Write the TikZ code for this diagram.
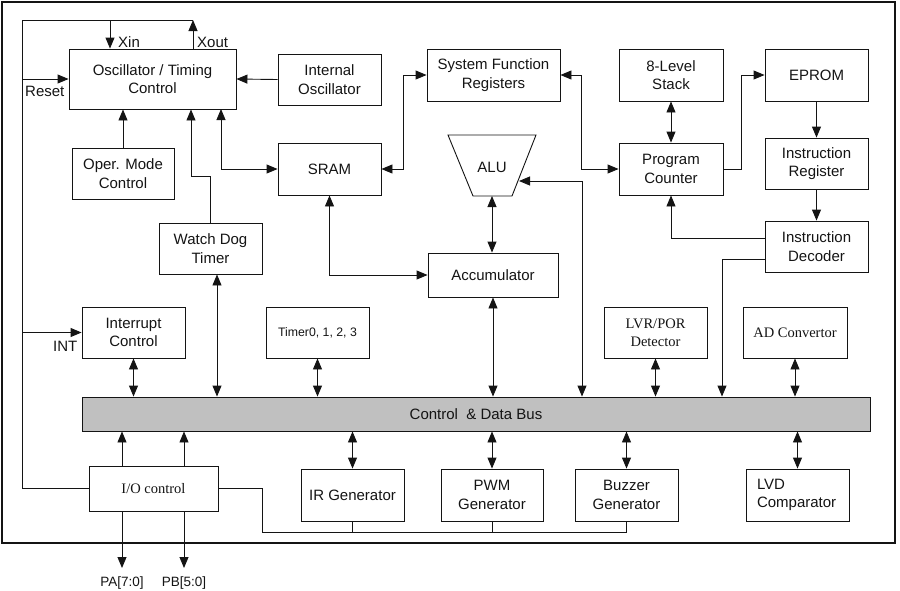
\documentclass[tikz,border=0pt]{standalone}
\usepackage{fontspec}
\setmainfont{Liberation Sans}
\newfontfamily\serifx{Liberation Serif}
\usetikzlibrary{arrows.meta}
\definecolor{busgray}{RGB}{192,192,192}
\definecolor{ink}{RGB}{20,20,20}
\begin{document}
\begin{tikzpicture}[x=1pt,y=-1pt,
  every node/.style={font=\fontsize{15}{18.5}\selectfont, text=ink},
  wire/.style={line width=0.9pt, draw=ink},
  blk/.style={draw=ink, line width=0.9pt, align=center, inner sep=0pt, minimum width=103pt, minimum height=51pt},
  arr/.style={wire, -{Triangle[length=11pt,width=9pt]}},
  darr/.style={wire, {Triangle[length=11pt,width=9pt]}-{Triangle[length=11pt,width=9pt]}},
  lbl/.style={inner sep=0pt},
  serifblk/.style={font=\serifx\fontsize{14.5}{18}\selectfont}
]
\useasboundingbox (0,0) rectangle (900,590);
\draw[line width=1.8pt, draw=ink] (2,2) rectangle (895,543);

% blocks
\node[blk, minimum width=167pt, minimum height=60pt] (osc) at (152.5,79) {Oscillator / Timing\\Control};
\node[blk] (intosc) at (329.5,79.5) {Internal\\Oscillator};
\node[blk, minimum width=102pt] (opm) at (123,173.5) {Oper. Mode\\Control};
\node[blk, minimum height=52pt] (sram) at (329.5,169) {SRAM};
\node[blk] (wdt) at (210.5,248.5) {Watch Dog\\Timer};
\node[blk, minimum width=133pt, minimum height=52pt] (sfr) at (493.5,75) {System Function\\Registers};
\draw[wire] (448,135) -- (536,135) -- (512,196) -- (473,196) -- cycle;
\node[lbl] (alu) at (492,167) {ALU};
\node[blk, minimum width=130pt, minimum height=44pt] (acc) at (493,275) {Accumulator};
\node[blk, minimum width=104pt, minimum height=52pt] (stack) at (671,75) {8-Level\\Stack};
\node[blk, minimum height=52pt] (eprom) at (816.5,75) {EPROM};
\node[blk, minimum width=104pt, minimum height=52pt] (pc) at (671,169) {Program\\Counter};
\node[blk] (ir) at (816.5,163.5) {Instruction\\Register};
\node[blk] (id) at (816.5,246.5) {Instruction\\Decoder};
\node[blk] (intc) at (133.5,332.5) {Interrupt\\Control};
\node[blk, font=\fontsize{12.3}{14}\selectfont] (tmr) at (317.5,332.5) {Timer0, 1, 2, 3};
\node[blk, serifblk] (lvr) at (655.5,332.5) {LVR/POR\\Detector};
\node[blk, serifblk, minimum width=104pt] (adc) at (795,332.5) {AD Convertor};
\node[draw=ink, line width=0.9pt, fill=busgray, minimum width=788pt, minimum height=34pt, inner sep=0pt] (bus) at (476,414) {Control~ \& Data Bus};
\node[blk, serifblk, minimum width=129pt, minimum height=45pt] (io) at (153.5,488.5) {I/O control};
\node[blk, minimum height=52pt] (irg) at (352.5,495) {IR Generator};
\node[blk, minimum width=102pt, minimum height=52pt] (pwm) at (492,495) {PWM\\Generator};
\node[blk, minimum height=52pt] (buz) at (626.5,495) {Buzzer\\Generator};
\node[blk, minimum height=52pt, align=left, text width=81pt] (lvd) at (797.5,495) {LVD\\Comparator};

% labels
\node[lbl, anchor=west] (xinl) at (118,42) {Xin};
\node[lbl, anchor=west] (xoutl) at (197,42) {Xout};
\node[lbl, anchor=west] (resetl) at (25,91) {Reset};
\node[lbl, anchor=west] (intl) at (53,346) {INT};

% junction coordinates
\coordinate (tl) at (22,20);
\coordinate (xi) at (110,20);
\coordinate (xo) at (193,20);
\coordinate (w1) at (191,176);
\coordinate (os2) at (221,109);
\coordinate (j1) at (403,75);
\coordinate (j2) at (581,169);
\coordinate (j3) at (741,75);
\coordinate (aluR) at (519,181);
\coordinate (aluB) at (492,196);
\coordinate (xalu) at (582,0);
\coordinate (xid) at (722,0);
\coordinate (xwdt) at (217,0);
\coordinate (pa) at (122,568);
\coordinate (pb) at (184,568);
\coordinate (bl) at (262,532);

\node[lbl, font=\fontsize{13.5}{15}\selectfont] (pal) at (122,583) {PA[7:0]};
\node[lbl, font=\fontsize{13.5}{15}\selectfont] (pbl) at (184,583) {PB[5:0]};

% connectors
\draw[wire] (io.west) -| (tl) -- (xo);
\draw[arr] (xi) -- (xi |- osc.north);
\draw[arr] (xo |- osc.north) -- (xo);
\draw[arr] (tl |- osc.west) -- (osc.west);
\draw[arr] (tl |- intc.west) -- (intc.west);
\draw[arr] (intosc.west) -- (osc.east);
\draw[arr] (opm.north) -- (opm.north |- osc.south);
\draw[arr] (wdt.north) |- (w1) -- (w1 |- osc.south);
\draw[darr] (os2) |- (sram.west);
\draw[darr] (sram.east) -| (j1) -- (sfr.west);
\draw[darr] (sfr.east) -| (j2) -- (pc.west);
\draw[darr] (stack.south) -- (pc.north);
\draw[arr] (pc.east) -| (j3) -- (eprom.west);
\draw[arr] (eprom.south) -- (ir.north);
\draw[arr] (ir.south) -- (id.north);
\draw[arr] ([yshift=8.5pt]id.west) -| (pc.south);
\draw[arr] ([yshift=-12.5pt]id.west) -| (xid |- bus.north);
\draw[darr] (aluR) -| (xalu |- bus.north);
\draw[darr] (aluB) -- (aluB |- acc.north);
\draw[darr] (sram.south) |- (acc.west);
\draw[darr] (acc.south) -- (acc.south |- bus.north);
\draw[darr] (xwdt |- wdt.south) -- (xwdt |- bus.north);
\foreach \n in {intc,tmr,lvr,adc} \draw[darr] (\n.south) -- (\n.south |- bus.north);
\foreach \n in {irg,pwm,buz,lvd} \draw[darr] (bus.south -| \n.north) -- (\n.north);
\draw[arr] (pa |- io.north) -- (pa |- bus.south);
\draw[arr] (pb |- io.north) -- (pb |- bus.south);
\draw[arr] (pa |- io.south) -- (pa);
\draw[arr] (pb |- io.south) -- (pb);
\draw[wire] (io.east) -| (bl) -| (buz.south);
\draw[wire] (irg.south) -- (irg.south |- bl);
\draw[wire] (pwm.south) -- (pwm.south |- bl);
\end{tikzpicture}
\end{document}
